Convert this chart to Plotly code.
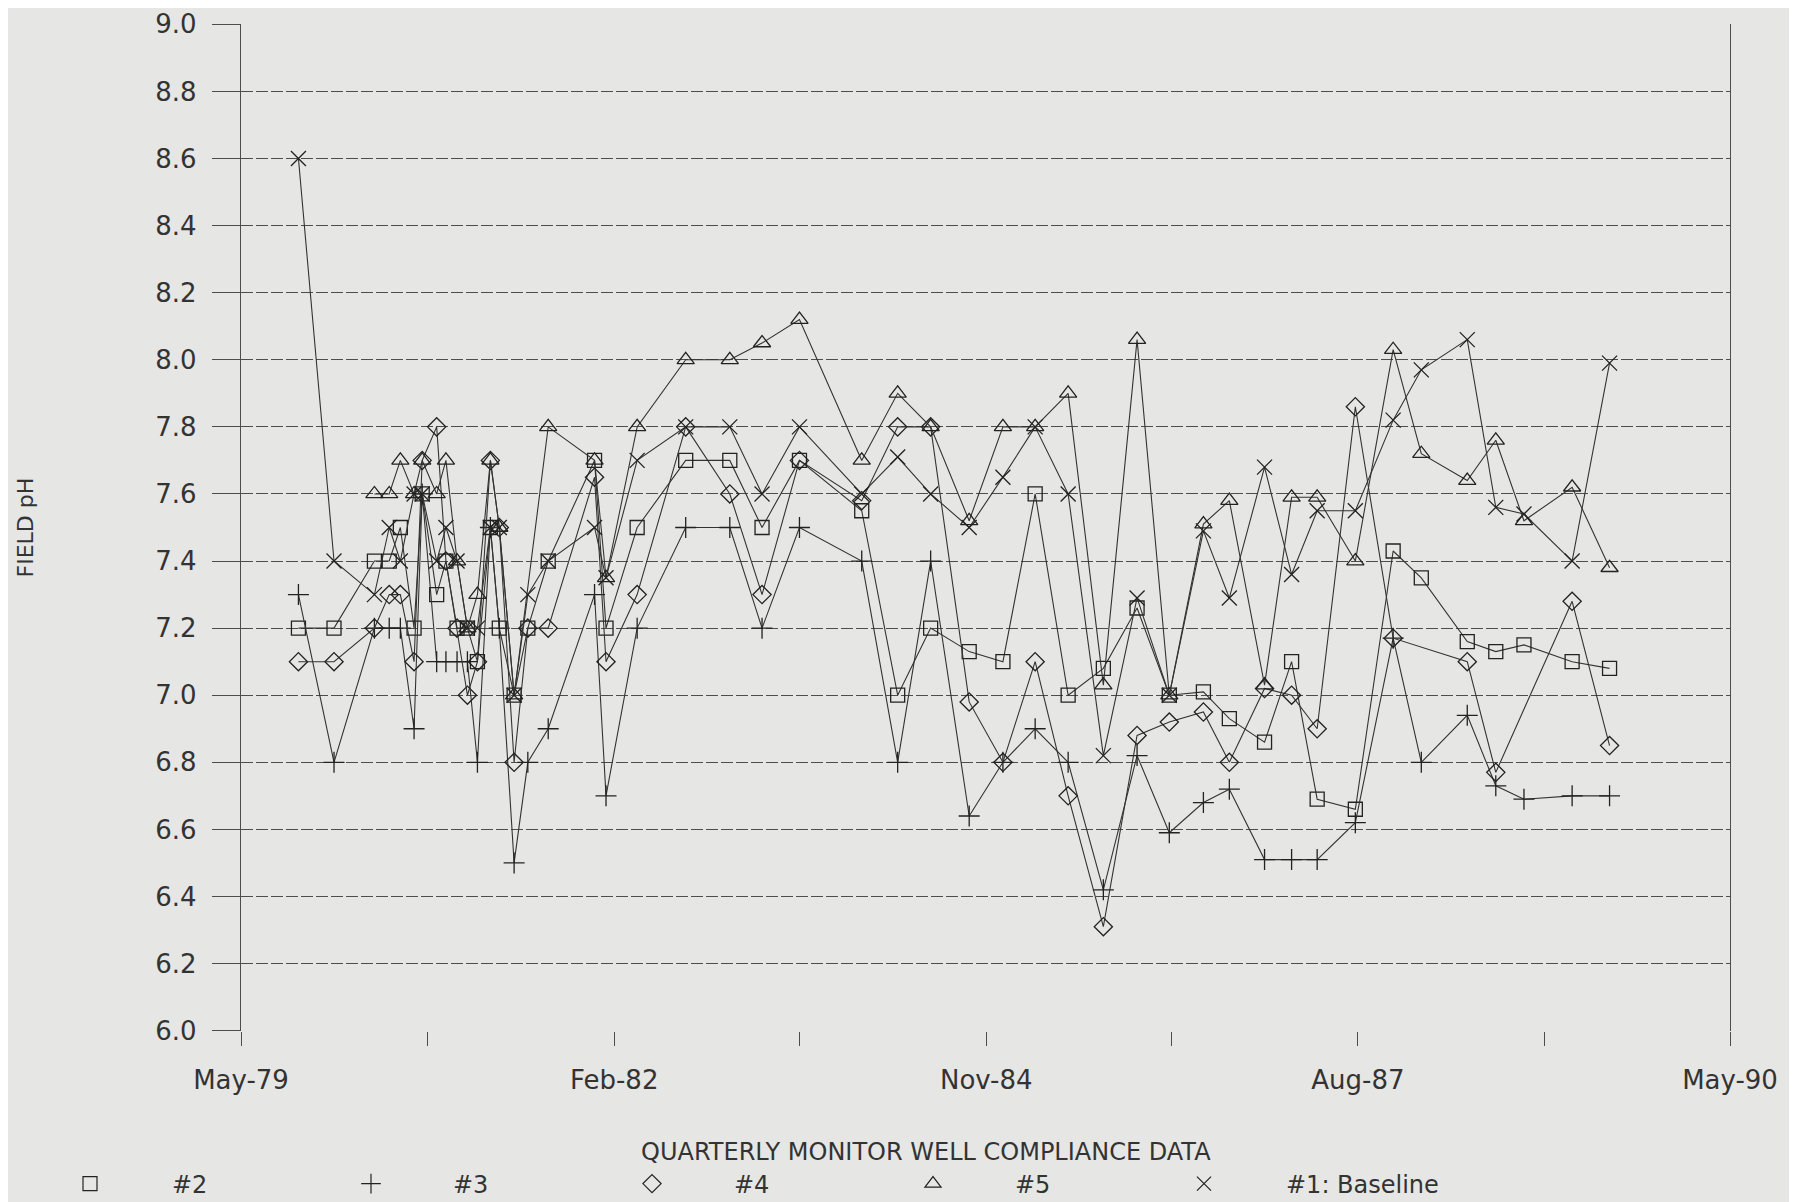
import plotly.graph_objects as go

# Sampling dates (shared by all wells)
DATES = [
    "1979-10-03", "1980-01-07", "1980-04-25", "1980-06-04", "1980-07-04",
    "1980-08-10", "1980-09-01", "1980-10-10", "1980-11-04", "1980-12-04",
    "1981-01-01", "1981-01-28", "1981-03-04", "1981-03-28", "1981-05-07",
    "1981-06-13", "1981-08-07", "1981-12-10", "1982-01-10", "1982-04-04",
    "1982-08-13", "1982-12-10", "1983-03-07", "1983-06-16", "1983-12-01",
    "1984-03-07", "1984-06-04", "1984-09-16", "1984-12-16", "1985-03-13",
    "1985-06-10", "1985-09-13", "1985-12-13", "1986-03-10", "1986-06-10",
    "1986-08-19", "1986-11-22", "1987-02-03", "1987-04-13", "1987-07-25",
    "1987-11-04", "1988-01-19", "1988-05-22", "1988-08-07", "1988-10-22",
    "1989-03-01", "1989-06-10",
]

WELL2 = [7.2, 7.2, 7.4, 7.4, 7.5, 7.2, 7.6, 7.3, 7.4, 7.2,
         7.2, 7.1, 7.5, 7.2, 7.0, 7.2, 7.4, 7.7, 7.2, 7.5,
         7.7, 7.7, 7.5, 7.7, 7.55, 7.0, 7.2, 7.13, 7.1, 7.6,
         7.0, 7.08, 7.26, 7.0, 7.01, 6.93, 6.86, 7.1, 6.69, 6.66,
         7.43, 7.35, 7.16, 7.13, 7.15, 7.1, 7.08]

WELL3 = [7.3, 6.8, 7.2, 7.2, 7.2, 6.9, 7.6, 7.1, 7.1, 7.1,
         7.1, 6.8, 7.5, 7.2, 6.5, 6.8, 6.9, 7.3, 6.7, 7.2,
         7.5, 7.5, 7.2, 7.5, 7.4, 6.8, 7.4, 6.64, 6.8, 6.9,
         6.8, 6.42, 6.82, 6.59, 6.68, 6.72, 6.51, 6.51, 6.51, 6.62,
         7.17, 6.8, 6.94, 6.73, 6.69, 6.70, 6.70]

WELL4 = [7.1, 7.1, 7.2, 7.3, 7.3, 7.1, 7.7, 7.8, 7.4, 7.2,
         7.0, 7.1, 7.7, 7.5, 6.8, 7.2, 7.2, 7.65, 7.1, 7.3,
         7.8, 7.6, 7.3, 7.7, 7.58, 7.8, 7.8, 6.98, 6.8, 7.1,
         6.7, 6.31, 6.88, 6.92, 6.95, 6.8, 7.02, 7.0, 6.9, 7.86,
         7.17, None, 7.1, 6.77, None, 7.28, 6.85]

WELL5 = [None, None, 7.6, 7.6, 7.7, 7.6, 7.7, 7.6, 7.7, 7.4,
         7.2, 7.3, 7.7, 7.5, 7.0, None, 7.8, 7.7, 7.35, 7.8,
         8.0, 8.0, 8.05, 8.12, 7.7, 7.9, 7.8, 7.52, 7.8, 7.8,
         7.9, 7.03, 8.06, 7.0, 7.51, 7.58, 7.03, 7.59, 7.59, 7.4,
         8.03, 7.72, 7.64, 7.76, 7.52, 7.62, 7.38]

WELL1 = [8.6, 7.4, 7.3, 7.5, 7.4, 7.6, 7.6, 7.4, 7.5, 7.4,
         7.2, 7.2, 7.5, 7.5, 7.0, 7.3, 7.4, 7.5, 7.35, 7.7,
         7.8, 7.8, 7.6, 7.8, 7.6, 7.71, 7.6, 7.5, 7.65, 7.8,
         7.6, 6.82, 7.29, 7.0, 7.49, 7.29, 7.68, 7.36, 7.55, 7.55,
         7.82, 7.97, 8.06, 7.56, 7.54, 7.4, 7.99]

SERIES = [
    ("#2", WELL2, "square-open"),
    ("#3", WELL3, "cross-thin-open"),
    ("#4", WELL4, "diamond-open"),
    ("#5", WELL5, "triangle-up-open"),
    ("#1: Baseline", WELL1, "x-thin-open"),
]

TICK_DATES = ["1979-05-01", "1980-09-16", "1982-02-01", "1983-06-16", "1984-11-01",
              "1986-03-16", "1987-08-01", "1988-12-16", "1990-05-01"]
TICK_TEXT = ["May-79", "", "Feb-82", "", "Nov-84", "", "Aug-87", "", "May-90"]

X_TITLE = "QUARTERLY MONITOR WELL COMPLIANCE DATA"
Y_TITLE = "FIELD pH"

INK = "#222222"
LINE = "#333333"
GRID = "#4d4d4d"
BG = "#e6e6e4"
FONT = "DejaVu Sans"
W, H = 1797, 1202
OFF = 8  # page body offset

fig = go.Figure()

for name, vals, sym in SERIES:
    xs = [d for d, v in zip(DATES, vals) if v is not None]
    ys = [v for v in vals if v is not None]
    size = 14 if sym in ("square-open", "diamond-open") else 15
    fig.add_trace(go.Scatter(
        x=xs, y=ys, mode="lines+markers", name=name, showlegend=False,
        line=dict(color=LINE, width=1.1),
        marker=dict(symbol=sym, size=size, color=INK, line=dict(color=INK, width=1.3)),
    ))

# legend-only entries (markers only, like the original key)
for i, (name, vals, sym) in enumerate(SERIES):
    fig.add_trace(go.Scatter(
        x=[None], y=[None], mode="markers", name=name, showlegend=True,
        legend="legend" if i < 4 else "legend2",
        marker=dict(symbol=sym, size=14, color=INK, line=dict(color="#555", width=1.2)),
    ))

PLOT_L, PLOT_R, PLOT_T, PLOT_B = 241, 1730, 24, 1031  # target pixel box in screenshot
LEG_Y = 1 - (1184 - OFF) / H
LEG_X0 = -13

fig.update_layout(
    width=W, height=H,
    paper_bgcolor=BG, plot_bgcolor=BG,
    margin=dict(l=PLOT_L - OFF, r=W + OFF - PLOT_R, t=PLOT_T - OFF, b=H + OFF - PLOT_B,
                autoexpand=False),
    font=dict(family=FONT, size=26, color="#333"),
    showlegend=True,
    legend=dict(
        orientation="h", xref="container", yref="container",
        x=LEG_X0 / W, xanchor="left", y=LEG_Y, yanchor="middle",
        bgcolor="rgba(0,0,0,0)", font=dict(size=24, color="#333"),
        entrywidth=112, entrywidthmode="pixels", itemwidth=154,
    ),
    legend2=dict(
        orientation="h", xref="container", yref="container",
        x=(LEG_X0 + 1127) / W, xanchor="left", y=LEG_Y, yanchor="middle",
        bgcolor="rgba(0,0,0,0)", font=dict(size=24, color="#333"),
        itemwidth=154,
    ),
    xaxis=dict(
        type="date", range=["1979-05-01", "1990-05-01"],
        tickmode="array", tickvals=TICK_DATES, ticktext=TICK_TEXT,
        ticks="outside", ticklen=14, tickwidth=1.3, tickcolor=GRID,
        ticklabelstandoff=12,
        showgrid=False, zeroline=False, showline=False,
        tickfont=dict(size=26, color="#333"),
    ),
    yaxis=dict(
        range=[5.999, 9.001], tick0=6.0, dtick=0.2, tickformat=".1f",
        ticks="outside", ticklen=28, tickwidth=1.3, tickcolor=GRID,
        ticklabelstandoff=10,
        showgrid=True, gridcolor=GRID, gridwidth=1.4, griddash="12px,3px",
        zeroline=False, showline=True, linecolor=GRID, linewidth=1.3, mirror=True,
        tickfont=dict(size=26, color="#333"),
    ),
    annotations=[
        dict(text=X_TITLE, xref="paper", yref="paper",
             x=(926 - PLOT_L) / (PLOT_R - PLOT_L), y=(PLOT_B - 1152) / (PLOT_B - PLOT_T),
             xanchor="center", yanchor="middle", showarrow=False,
             font=dict(size=24, color="#333", family=FONT)),
        dict(text=Y_TITLE, xref="paper", yref="paper",
             x=(25 - PLOT_L) / (PLOT_R - PLOT_L), y=0.5,
             xanchor="center", yanchor="middle", showarrow=False, textangle=-90,
             font=dict(size=22, color="#333", family=FONT)),
    ],
)

fig.write_html("out.html")
